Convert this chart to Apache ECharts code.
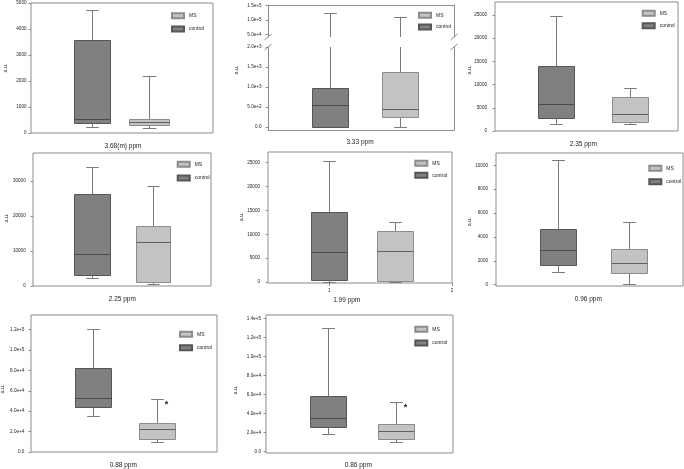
<!DOCTYPE html>
<html><head><meta charset="utf-8">
<script src="https://cdn.jsdelivr.net/npm/echarts@6/dist/echarts.min.js"></script>
<style>html,body{margin:0;padding:0;background:#fff}#c{width:684px;height:469px}</style>
</head><body><div id="c"></div>
<script>
// ---------------- DATA ----------------
const panelTitles = ['3.68(m) ppm','3.33 ppm','2.35 ppm','2.25 ppm','1.99 ppm','0.96 ppm','0.88 ppm','0.86 ppm'];
const seriesNames = ['MS','control'];
// box statistics: [min, Q1, median, Q3, max]
const controlStats = [
  [217, 370, 536, 3559, 4745],
  [0, 5, 535, 985, 123000],
  [1500, 2800, 5820, 14000, 24850],
  [2200, 3230, 9060, 26370, 34090],
  [0, 420, 6230, 14610, 25430],
  [1090, 1620, 2880, 4690, 10420],
  [35000, 44500, 52600, 82700, 120600],
  [18300, 26300, 35150, 58950, 129900]
];
const msStats = [
  [191, 293, 421, 536, 2181],
  [0, 235, 435, 1367, 111500],
  [1420, 1850, 3660, 7330, 9270],
  [570, 1140, 12490, 17140, 28490],
  [0, 270, 6560, 10750, 12640],
  [30, 1000, 1790, 2960, 5230],
  [10200, 13100, 22250, 28800, 51700],
  [10500, 13370, 22100, 28840, 52000]
];
const controlPos = [1, 1, 1, 1, 1, 1, 1, 1];
const msPos = [1.475, 1.563, 1.603, 1.515, 1.538, 1.567, 1.516, 1.541];
const msSignificant = [false, false, false, false, false, false, true, true];
const yTickValues = [
  [0, 1000, 2000, 3000, 4000, 5000],
  [0, 500, 1000, 1500, 2000],
  [0, 5000, 10000, 15000, 20000, 25000],
  [0, 10000, 20000, 30000],
  [0, 5000, 10000, 15000, 20000, 25000],
  [0, 2000, 4000, 6000, 8000, 10000],
  [0, 20000, 40000, 60000, 80000, 100000, 120000],
  [0, 20000, 40000, 60000, 80000, 100000, 120000, 140000]
];
const brokenUpperTicks = [50000, 100000, 150000];
const xTickValues = [1, 2];

// ---------------- LAYOUT / STYLE ----------------
const FONT = 'Liberation Sans, Arial, sans-serif';
const FRAME = '#8c8c8c';
const TXT = '#222';
const styles = {
  control: {fill: '#808080', stroke: '#565656', median: '#4a4a4a', whisker: '#7a7a7a'},
  MS: {fill: '#c3c3c3', stroke: '#8c8c8c', median: '#606060', whisker: '#7a7a7a'}
};
const L = [
  {l:31, t:3, w:182, h:130, ymin:0, ymax:5000, m:4.5, lx:171, ly:14.7, lg:11.3, tx:123, ty:146, ax:5, ay:68, exp:false, bw:[0.3,0.33]},
  {l:268, t:47, w:186, h:83, ymin:-80, ymax:2000, m:6.5, up:{t:5, h:32, ymin:40500, ymax:152500}, lx:418, ly:14.3, lg:9.7, tx:360, ty:142.7, ax:236.7, ay:70, exp:true, bw:[0.3,0.3]},
  {l:495, t:2, w:183, h:129, ymin:0, ymax:27800, m:8, lx:641.7, ly:12.3, lg:10.4, tx:583.3, ty:144.3, ax:469, ay:70, exp:false, bw:[0.3,0.3]},
  {l:33, t:153, w:178, h:133, ymin:0, ymax:38000, m:7.3, lx:176.7, ly:163.3, lg:11.7, tx:122.3, ty:299.3, ax:6.7, ay:218, exp:false, bw:[0.31,0.3]},
  {l:268, t:152, w:184, h:131, ymin:-210, ymax:27250, m:8, lx:414.3, ly:162.3, lg:10, tx:346.7, ty:300, ax:241.7, ay:216.7, exp:false, bw:[0.3,0.3], xticks:true},
  {l:496, t:153, w:187, h:133, ymin:-110, ymax:11030, m:8, lx:648.3, ly:167.3, lg:11.4, tx:588.3, ty:299.3, ax:469, ay:221.7, exp:false, bw:[0.3,0.3]},
  {l:31, t:315, w:186, h:137, ymin:0, ymax:134300, m:6.7, lx:179, ly:333.3, lg:11.4, tx:123.3, ty:465, ax:2.7, ay:389, exp:true, bw:[0.3,0.3]},
  {l:266, t:315, w:187, h:138, ymin:-1370, ymax:143900, m:5, lx:414.3, ly:328.3, lg:11.7, tx:358.3, ty:465, ax:235, ay:390, exp:true, bw:[0.3,0.3]}
];

function fmtPlain(v){ return String(v); }
function fmtExp(v){ return v === 0 ? '0.0' : v.toExponential(1); }

const grids = [], xAxes = [], yAxes = [], series = [], legends = [], graphics = [];

function boxSeries(name, xi, yi, stats, pos, bw, sig){
  const st = styles[name];
  return {
    type: 'custom', name, xAxisIndex: xi, yAxisIndex: yi, clip: true,
    itemStyle: {color: st.fill, borderColor: st.stroke, borderWidth: 1},
    encode: {x: 0, y: [1,2,3,4,5]},
    data: [[pos].concat(stats)],
    renderItem(params, api){
      const x = api.value(0);
      const py = v => Math.round(api.coord([x, v])[1]) + 0.5;
      const cx = Math.round(api.coord([x, api.value(3)])[0]) + 0.5;
      const w = api.size([bw, 0])[0];
      const cap = w * 0.34;
      const yMin = py(api.value(1)), yQ1 = py(api.value(2)), yMd = py(api.value(3)), yQ3 = py(api.value(4)), yMax = py(api.value(5));
      const ls = {stroke: st.whisker, lineWidth: 1};
      const left = Math.round(cx - w/2) + 0.5, right = Math.round(cx + w/2) - 0.5;
      const ch = [
        {type:'line', shape:{x1:cx, y1:yQ3, x2:cx, y2:yMax}, style: ls},
        {type:'line', shape:{x1:cx, y1:yQ1, x2:cx, y2:yMin}, style: ls},
        {type:'line', shape:{x1:cx-cap/2, y1:yMax, x2:cx+cap/2, y2:yMax}, style: ls},
        {type:'line', shape:{x1:cx-cap/2, y1:yMin, x2:cx+cap/2, y2:yMin}, style: ls},
        {type:'rect', shape:{x:left, y:yQ3, width:right-left, height:yQ1-yQ3}, style:{fill: st.fill, stroke: st.stroke, lineWidth: 1}},
        {type:'line', shape:{x1:left, y1:yMd, x2:right, y2:yMd}, style:{stroke: st.median, lineWidth: 1}}
      ];
      if (sig) ch.push({type:'text', style:{text:'*', x: cx + 9, y: yMax + 5, font: 'bold 9px ' + FONT, fill: TXT, align:'center', verticalAlign:'middle', textAlign:'center', textVerticalAlign:'middle'}});
      return {type:'group', children: ch};
    }
  };
}

function yAxisDef(gi, p, ymin, ymax, ticks, exp, opts){
  return Object.assign({
    type:'value', gridIndex: gi, min: ymin, max: ymax, position:'left',
    splitLine:{show:false},
    axisLine:{show:false, onZero:false},
    axisTick:{show:true, length:2.5, customValues: ticks, lineStyle:{color: FRAME, width:1}},
    axisLabel:{show:true, customValues: ticks, formatter: exp ? fmtExp : fmtPlain, fontSize:4.6, fontFamily: FONT, color: TXT, margin: p.m}
  }, opts || {});
}
function xAxisDef(gi, opts){
  return Object.assign({
    type:'value', gridIndex: gi, min:0.5, max:2, position:'bottom',
    splitLine:{show:false}, axisLine:{show:false, onZero:false},
    axisTick:{show:false}, axisLabel:{show:false}
  }, opts || {});
}

L.forEach((p, i) => {
  if (!p.up) {
    const gi = grids.length;
    grids.push({left:p.l, top:p.t, width:p.w, height:p.h, show:true, borderColor:FRAME, borderWidth:1, outerBoundsMode:'none'});
    const xi = xAxes.length;
    xAxes.push(xAxisDef(gi, p.xticks ? {
      axisTick:{show:true, length:3, customValues:xTickValues, lineStyle:{color:FRAME}},
      axisLabel:{show:true, customValues:xTickValues, fontSize:4.6, fontFamily:FONT, color:TXT, margin:5}
    } : {}));
    const yi = yAxes.length;
    yAxes.push(yAxisDef(gi, p, p.ymin, p.ymax, yTickValues[i], p.exp));
    series.push(boxSeries('control', xi, yi, controlStats[i], controlPos[i], p.bw[0], false));
    series.push(boxSeries('MS', xi, yi, msStats[i], msPos[i], p.bw[1], msSignificant[i]));
  } else {
    const lineSt = {show:true, onZero:false, lineStyle:{color:FRAME, width:1}};
    // upper segment
    const gu = grids.length;
    grids.push({left:p.l, top:p.up.t, width:p.w, height:p.up.h, show:false, outerBoundsMode:'none'});
    const xu = xAxes.length;
    xAxes.push(xAxisDef(gu, {position:'top', axisLine: lineSt}));
    const yu = yAxes.length;
    yAxes.push(yAxisDef(gu, p, p.up.ymin, p.up.ymax, brokenUpperTicks, true, {axisLine: lineSt}));
    yAxes.push({type:'value', gridIndex:gu, min:p.up.ymin, max:p.up.ymax, position:'right', splitLine:{show:false}, axisLine: lineSt, axisTick:{show:false}, axisLabel:{show:false}});
    // lower segment
    const gl = grids.length;
    grids.push({left:p.l, top:p.t, width:p.w, height:p.h, show:false, outerBoundsMode:'none'});
    const xl = xAxes.length;
    xAxes.push(xAxisDef(gl, {position:'bottom', axisLine: lineSt}));
    const yl = yAxes.length;
    yAxes.push(yAxisDef(gl, p, p.ymin, p.ymax, yTickValues[i], true, {axisLine: lineSt}));
    yAxes.push({type:'value', gridIndex:gl, min:p.ymin, max:p.ymax, position:'right', splitLine:{show:false}, axisLine: lineSt, axisTick:{show:false}, axisLabel:{show:false}});
    [[xu, yu], [xl, yl]].forEach(([xi, yi]) => {
      series.push(boxSeries('control', xi, yi, controlStats[i], controlPos[i], p.bw[0], false));
      series.push(boxSeries('MS', xi, yi, msStats[i], msPos[i], p.bw[1], msSignificant[i]));
    });
    // axis break marks
    [[xu, yu, 'bottom'], [xl, yl, 'top']].forEach(([xi, yi, edge]) => {
      series.push({
        type:'custom', name:'break', xAxisIndex: xi, yAxisIndex: yi, clip:false, silent:true,
        data:[[1, 1]],
        renderItem(params){
          const cs = params.coordSys;
          const y = edge === 'bottom' ? cs.y + cs.height : cs.y;
          const st = {stroke: FRAME, lineWidth: 1};
          return {type:'group', children: [cs.x, cs.x + cs.width].map(ax => ({
            type:'line', shape:{x1: ax - 3.5, y1: y + 3, x2: ax + 3.5, y2: y - 3}, style: st
          }))};
        }
      });
    });
  }
  legends.push({
    data: seriesNames, orient:'vertical', left: p.lx, top: p.ly - 2.5, padding: 0,
    itemWidth: 12, itemHeight: 5, itemGap: p.lg - 5, icon: 'rect', selectedMode: false,
    textStyle: {fontSize: 5, lineHeight: 5, fontFamily: FONT, color: TXT}
  });
  graphics.push({type:'text', x: p.tx, y: p.ty, silent:true,
    style:{text: panelTitles[i], font: '6.5px ' + FONT, fill: TXT, textAlign:'center', textVerticalAlign:'middle', align:'center', verticalAlign:'middle'}});
  graphics.push({type:'text', x: p.ax, y: p.ay, rotation: Math.PI/2, silent:true,
    style:{text: 'a.u.', font: '5.5px ' + FONT, fill: TXT, textAlign:'center', textVerticalAlign:'middle', align:'center', verticalAlign:'middle'}});
});

const chart = echarts.init(document.getElementById('c'), null, {renderer:'canvas'});
chart.setOption({
  backgroundColor: '#fff',
  animation: false,
  grid: grids, xAxis: xAxes, yAxis: yAxes, series, legend: legends, graphic: graphics
});
</script></body></html>
